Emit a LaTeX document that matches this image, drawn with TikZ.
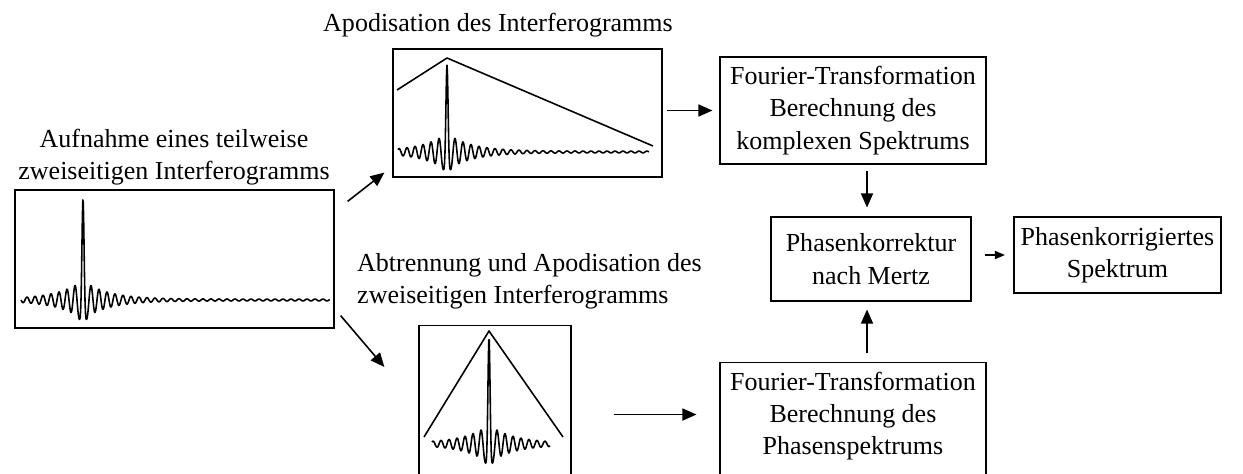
\documentclass[tikz,border=0pt]{standalone}
\usepackage{fontspec}
\setmainfont{Liberation Serif}
\usetikzlibrary{arrows.meta,positioning,calc}

\begin{document}
\begin{tikzpicture}[>={Triangle[length=0.28cm,width=0.24cm]},font=\fontsize{14.8pt}{18.4pt}\selectfont,
  declare function={pk(\t)=cos(2250*\t)*exp(-pow(min(abs(\t)/0.04,4),2));
                    rp(\t)=cos(2250*\t)*(exp(-abs(\t)/0.5)+0.05);}]
\tikzstyle{blk}=[draw,line width=0.6pt,align=center,inner sep=0pt]
\tikzstyle{frm}=[draw,line width=0.7pt,inner sep=0pt]
\tikzstyle{sig}=[line width=0.9pt,line join=round]
\tikzstyle{arr}=[->,line width=0.9pt]
\useasboundingbox (0,0) rectangle (24.86,9.46);
% interferogram frames
\node[frm,minimum width=6.38cm,minimum height=2.76cm] (p1) at (3.49,4.28) {};
\node[frm,minimum width=5.38cm,minimum height=2.56cm] (p2) at (10.55,7.20) {};
\node[frm,minimum width=3.04cm,minimum height=3.4cm,anchor=north] (p3) at (9.90,2.96) {};
\draw[sig] plot[domain=-1.24:4.94,samples=700] ({1.66+\x},{3.46+1.635*pk(\x)+0.375*rp(\x)});
\draw[sig] plot[domain=-0.98:4.04,samples=600] ({8.94+\x},{6.42+1.37*pk(\x)+0.35*rp(\x)});
\draw[sig] (7.94,7.66) -- (8.94,8.30) -- (13.06,6.54);
\draw[sig] plot[domain=-1.14:1.22,samples=300] ({9.78+\x},{0.58+1.75*pk(\x)+0.36*rp(\x)});
\draw[sig] (8.48,0.72) -- (9.78,2.84) -- (11.26,0.72);
% labels
\node[align=center] (l1) at (3.48,6.32) {Aufnahme eines teilweise\\zweiseitigen Interferogramms};
\node (l2) at (9.96,8.96) {Apodisation des Interferogramms};
\node[align=left,anchor=west] (l3) at (7.02,3.84) {Abtrennung und Apodisation des\\zweiseitigen Interferogramms};
% processing blocks
\node[blk,minimum width=5.32cm,minimum height=2.14cm] (ft1) at (17.06,7.25) {Fourier-Transformation\\Berechnung des\\komplexen Spektrums};
\node[blk,minimum width=5.32cm,minimum height=2.68cm,anchor=north] (ft2) at (17.06,2.22) {Fourier-Transformation\\Berechnung des\\Phasenspektrums\\\mbox{}};
\node[blk,minimum width=4.0cm,minimum height=1.68cm] (pk) at (17.42,4.28) {Phasenkorrektur\\nach Mertz};
\node[blk,line width=1.2pt,minimum width=4.14cm,minimum height=1.52cm] (res) at (22.35,4.36) {Phasenkorrigiertes\\Spektrum};
% arrows
\draw[arr] ([shift={(0.26,-0.24)}]p1.north east) -- ([shift={(-0.16,0.10)}]p2.south west);
\draw[arr] ([shift={(0.12,0.26)}]p1.south east) -- ([shift={(-0.68,-0.84)}]p3.north west);
\draw[arr,shorten <=0.08cm,shorten >=0.14cm] (p2.east |- ft1.west) -- (ft1.west);
\draw[arr,shorten <=0.84cm,shorten >=0.46cm] ([yshift=0.3cm]p3.east |- ft2.west) -- ([yshift=0.3cm]ft2.west);
\draw[arr,shorten <=0.12cm,shorten >=0.18cm] ([xshift=-0.08cm]pk.north |- ft1.south) -- ([xshift=-0.08cm]pk.north);
\draw[arr,shorten <=0.18cm,shorten >=0.16cm] ([xshift=-0.08cm]pk.south |- ft2.north) -- ([xshift=-0.08cm]pk.south);
\draw[->,>={Triangle[length=0.2cm,width=0.16cm]},line width=0.9pt,shorten <=0.26cm,shorten >=0.16cm] (pk.east |- res.west) -- (res.west);
\end{tikzpicture}
\end{document}
